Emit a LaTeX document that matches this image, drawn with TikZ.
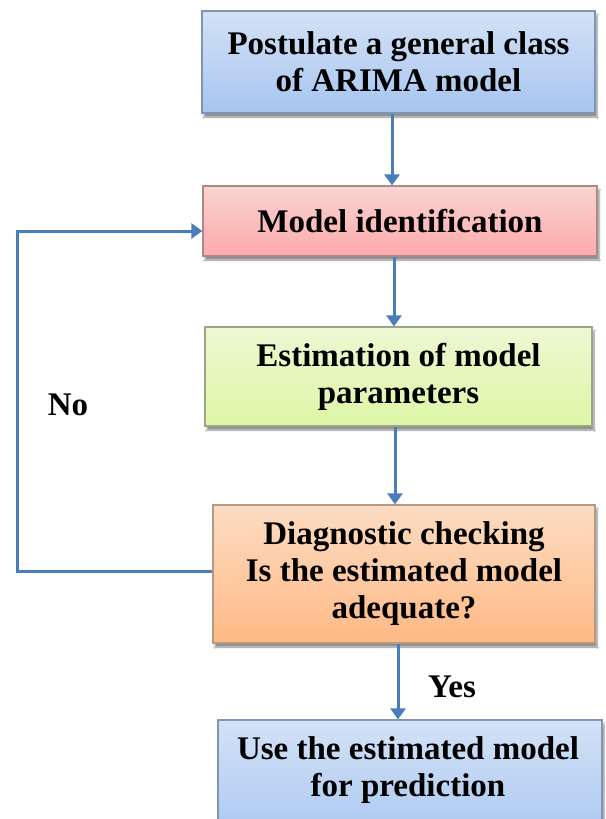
\documentclass[tikz,border=0pt]{standalone}
\usepackage{fontspec}
\setmainfont{Liberation Serif}
\usetikzlibrary{arrows.meta,shadows.blur}
\definecolor{arrowblue}{HTML}{4A7EBB}
\definecolor{b1top}{HTML}{D3E2F6}\definecolor{b1bot}{HTML}{A7C5F0}\definecolor{b1edge}{HTML}{7F95B5}
\definecolor{b2top}{HTML}{F9D3D3}\definecolor{b2bot}{HTML}{FFAAAA}\definecolor{b2edge}{HTML}{A88A8A}
\definecolor{b3top}{HTML}{EDF7D3}\definecolor{b3bot}{HTML}{DDF7A6}\definecolor{b3edge}{HTML}{9CA58A}
\definecolor{b4top}{HTML}{FCDCC2}\definecolor{b4bot}{HTML}{FFB985}\definecolor{b4edge}{HTML}{B39A85}
\tikzset{
  box/.style={draw, line width=1.2pt, rectangle, align=center, inner sep=0pt,
    font=\fontsize{33}{37}\selectfont\bfseries,
    blur shadow={shadow xshift=2pt, shadow yshift=-4pt, shadow blur steps=6, shadow opacity=45}},
  conn/.style={arrowblue, line width=3pt, -{Triangle[length=11pt,width=15pt]}},
  lbl/.style={font=\fontsize{33}{37}\selectfont\bfseries, inner sep=0pt}
}
\begin{document}
\begin{tikzpicture}[x=1pt,y=-1pt]
\useasboundingbox (0,0) rectangle (605,819);
\clip (0,0) rectangle (605,819);
\fill[white] (0,0) rectangle (605,819);
\node[box, draw=b1edge, top color=b1top, bottom color=b1bot, minimum width=393pt, minimum height=102pt] (b1) at (398.5,62) {Postulate a general class\\of ARIMA model};
\node[box, draw=b2edge, top color=b2top, bottom color=b2bot, minimum width=394pt, minimum height=70pt] (b2) at (400,221) {Model identification};
\node[box, draw=b3edge, top color=b3top, bottom color=b3bot, minimum width=387pt, minimum height=99pt] (b3) at (398.5,376.5) {Estimation of model\\parameters};
\node[box, draw=b4edge, top color=b4top, bottom color=b4bot, minimum width=382pt, minimum height=138pt] (b4) at (404,574) {Diagnostic checking\\Is the estimated model\\adequate?};
\node[box, draw=b1edge, top color=b1top, bottom color=b1bot, minimum width=384pt, minimum height=130pt, text depth=0pt] (b5) at (410,785) {};
\node[lbl, align=center] (t5) at (408,770) {Use the estimated model\\for prediction};
\node[lbl] (no) at (68,405) {No};
\node[lbl] (yes) at (452,687) {Yes};
\coordinate (c1) at (17,571);
\coordinate (c2) at (17,231);
\draw[conn] (b1.south -| 392,0) -- (b2.north -| 392,0);
\draw[conn] (b2.south -| 394,0) -- (b3.north -| 394,0);
\draw[conn] (b3.south -| 395,0) -- (b4.north -| 395,0);
\draw[conn] (b4.south -| 398,0) -- (b5.north -| 398,0);
\draw[conn] (b4.west |- c1) -- (c1) -- (c2) -- (b2.west |- c2);
\end{tikzpicture}
\end{document}
